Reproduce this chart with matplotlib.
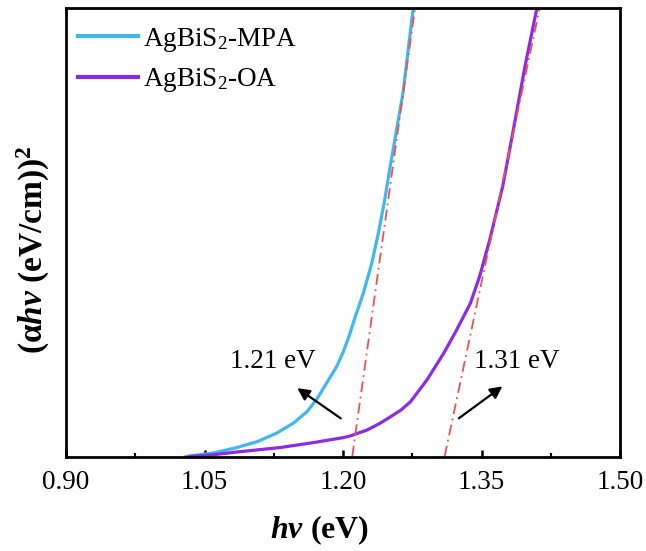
import numpy as np
import matplotlib
matplotlib.use("Agg")
import matplotlib.pyplot as plt
from matplotlib.ticker import MultipleLocator, FormatStrFormatter

plt.rcParams['font.family'] = ['Liberation Serif', 'DejaVu Serif']
plt.rcParams['mathtext.fontset'] = 'custom'
plt.rcParams['mathtext.rm'] = 'Liberation Serif'
plt.rcParams['mathtext.it'] = 'Liberation Serif:italic'
plt.rcParams['mathtext.bf'] = 'Liberation Serif:bold'
plt.rcParams['mathtext.bfit'] = 'Liberation Serif:bold:italic'

# Tauc plot, (alpha*hv)^2 in arbitrary units
hv_mpa = [1.030, 1.060, 1.085, 1.107, 1.128, 1.146, 1.161, 1.172, 1.182, 1.193,
          1.200, 1.206, 1.213, 1.222, 1.231, 1.238, 1.245, 1.251, 1.265, 1.276]
y_mpa = [0.0, 0.008, 0.020, 0.033, 0.052, 0.074, 0.100, 0.129, 0.163, 0.200,
         0.232, 0.265, 0.310, 0.364, 0.430, 0.495, 0.570, 0.646, 0.811, 1.0]

hv_oa = [1.034, 1.060, 1.085, 1.132, 1.168, 1.200, 1.208, 1.226, 1.240, 1.251,
         1.263, 1.273, 1.291, 1.309, 1.323, 1.338, 1.348, 1.359, 1.373, 1.384,
         1.397, 1.410]
y_oa = [0.0, 0.004, 0.010, 0.020, 0.031, 0.042, 0.046, 0.059, 0.074, 0.088,
        0.104, 0.122, 0.171, 0.230, 0.282, 0.342, 0.402, 0.484, 0.603, 0.723,
        0.869, 1.0]

# linear fits: x-intercept (band gap) and x where the fit reaches the top
gap_mpa, top_mpa = 1.21, 1.278
gap_oa, top_oa = 1.31, 1.413

fig = plt.figure(figsize=(6.46, 5.51), dpi=100)
ax = fig.add_axes([0.1022, 0.1715, 0.8576, 0.814])

ax.plot(hv_mpa, y_mpa, color='#3fb8f0', lw=2.3, label='AgBiS$_2$-MPA')
ax.plot(hv_oa, y_oa, color='#8a2be8', lw=2.3, label='AgBiS$_2$-OA')
ax.plot([gap_mpa, top_mpa], [0, 1], color='#f0504f', lw=1.3,
        ls=(0, (6, 2.5, 1, 2.5)))
ax.plot([gap_oa, top_oa], [0, 1], color='#f0504f', lw=1.3,
        ls=(0, (6, 2.5, 1, 2.5)))

ax.annotate('', xy=(1.148, 0.156), xytext=(1.200, 0.0815),
            arrowprops=dict(arrowstyle='-|>', color='black', lw=1.6,
                            mutation_scale=18))
ax.annotate('', xy=(1.375, 0.160), xytext=(1.323, 0.0815),
            arrowprops=dict(arrowstyle='-|>', color='black', lw=1.6,
                            mutation_scale=18))
ax.text(1.124, 0.211, '1.21 eV', fontsize=19.5, ha='center', va='center')
ax.text(1.388, 0.211, '1.31 eV', fontsize=19.5, ha='center', va='center')

ax.set_xlim(0.9, 1.5)
ax.set_ylim(0, 1.0)
ax.xaxis.set_major_locator(MultipleLocator(0.15))
ax.xaxis.set_minor_locator(MultipleLocator(0.075))
ax.xaxis.set_major_formatter(FormatStrFormatter('%.2f'))
ax.set_yticks([])
ax.tick_params(axis='x', which='major', direction='in', length=5, width=1.8,
               labelsize=19.5, pad=10)
ax.tick_params(axis='x', which='minor', direction='in', length=2.8, width=1.5)
for s in ax.spines.values():
    s.set_linewidth(2)

ax.set_xlabel(r'$\mathbfit{hv}$ (eV)', fontsize=23, fontweight='bold', labelpad=13)
ax.set_ylabel(r'(α$\mathbfit{hv}$ (eV/cm))$^\mathbf{2}$', fontsize=24,
              fontweight='bold', labelpad=10)
ax.xaxis.label.set_x(0.457)
ax.yaxis.label.set_y(0.461)

ax.legend(loc='upper left', bbox_to_anchor=(0.002, 0.985), borderaxespad=0,
          frameon=False, fontsize=19.5, handlelength=2.2,
          handletextpad=0.2, labelspacing=0.47)
leg = ax.get_legend()
for h in leg.get_lines():
    h.set_linewidth(3)

fig.savefig('out.png', dpi=100, facecolor='white')
